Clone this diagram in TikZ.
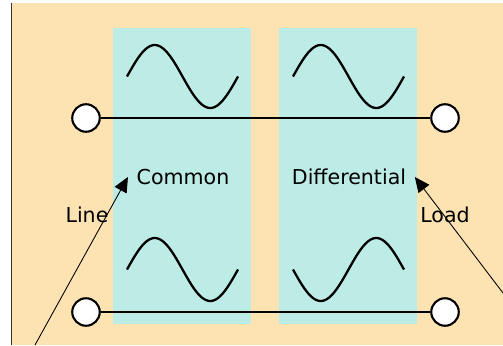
\documentclass[tikz,border=0pt]{standalone}
\usepackage{fontspec}
\setmainfont{DejaVu Sans}
\usetikzlibrary{arrows.meta}
\definecolor{peach}{HTML}{FEE3B2}
\definecolor{aqua}{HTML}{BDEBE6}
\begin{document}
\begin{tikzpicture}[x=0.02cm, y=-0.02cm, >={Triangle[length=0.3cm, width=0.27cm]}]
\useasboundingbox (0,0) rectangle (503,345);
\fill[white] (0,0) rectangle (503,345);
\fill[peach] (12,3) rectangle (503,345);
\draw[line width=0.8pt, black!80] (11.5,3) -- (11.5,345);
\fill[aqua] (113,28) rectangle (251,324);
\fill[aqua] (279,28) rectangle (417,324);
% waves
\draw[line width=1.3pt] plot[domain=0:360, samples=60] ({127+\x/360*111}, {76.5-31.5*sin(\x)});
\draw[line width=1.3pt] plot[domain=0:360, samples=60] ({293+\x/360*111}, {76.5-31.5*sin(\x)});
\draw[line width=1.3pt] plot[domain=0:360, samples=60] ({127+\x/360*111}, {269.5-31.5*sin(\x)});
\draw[line width=1.3pt] plot[domain=0:360, samples=60] ({293+\x/360*111}, {269.5+31.5*sin(\x)});
% terminals
\node[draw, circle, fill=white, line width=1.2pt, minimum size=0.55cm, inner sep=0pt] (lineA) at (86,118) {};
\node[draw, circle, fill=white, line width=1.2pt, minimum size=0.55cm, inner sep=0pt] (lineB) at (86,312) {};
\node[draw, circle, fill=white, line width=1.2pt, minimum size=0.55cm, inner sep=0pt] (loadA) at (445,118) {};
\node[draw, circle, fill=white, line width=1.2pt, minimum size=0.55cm, inner sep=0pt] (loadB) at (445,312) {};
\draw[line width=1.2pt] (lineA) -- (loadA);
\draw[line width=1.2pt] (lineB) -- (loadB);
% labels
\node[font=\fontsize{11.7}{14}\selectfont, inner sep=1pt, outer sep=4pt] (common) at (183,177) {Common};
\node[font=\fontsize{11.7}{14}\selectfont, inner sep=1pt, outer sep=4pt] (diff) at (349,177) {Differential};
\node[font=\fontsize{11.7}{14}\selectfont, inner sep=1pt] (line) at (87,215) {Line};
\node[font=\fontsize{11.7}{14}\selectfont, inner sep=1pt] (load) at (445,215) {Load};
\coordinate (p) at (35,345);
\coordinate (q) at (503,293);
\draw[->, line width=0.5pt] (p) -- (common.west);
\draw[->, line width=0.5pt] (q) -- (diff.east);
\end{tikzpicture}
\end{document}
